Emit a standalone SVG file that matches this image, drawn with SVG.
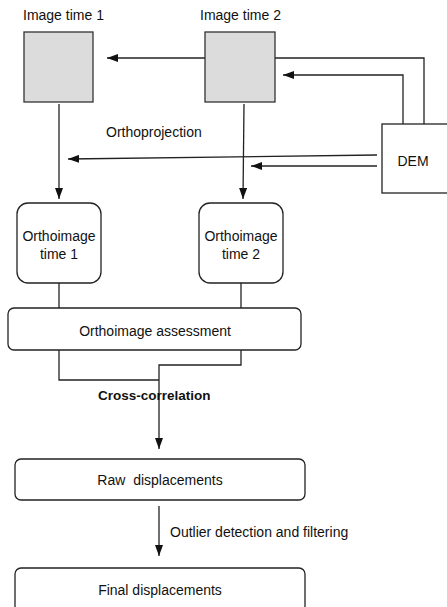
<svg xmlns="http://www.w3.org/2000/svg" width="447" height="607" viewBox="0 0 447 607">
  <style>
    .box { fill: #ffffff; stroke: #222222; stroke-width: 1.3; }
    .img { fill: #dcdcdc; stroke: #333333; stroke-width: 1.3; }
    .lbl { font-family: "Liberation Sans", Arial, sans-serif; font-size: 14px; fill: #111111; }
    .mid { text-anchor: middle; }
    .bold { font-weight: bold; font-size: 13.5px; }
    .wire { fill: none; stroke: #222222; stroke-width: 1.3; }
    .arrow { fill: none; stroke: #222222; stroke-width: 1.3; marker-end: url(#head); }
  </style>
  <defs>
    <marker id="head" markerUnits="userSpaceOnUse" markerWidth="11" markerHeight="8" refX="11" refY="4" orient="auto">
      <path d="M0,0 L11,4 L0,8 z" fill="#111111"/>
    </marker>
  </defs>
  <rect width="447" height="607" fill="#ffffff"/>

  <!-- connectors -->
  <g id="connectors">
    <!-- image 2 to image 1 -->
    <line class="arrow" x1="205" y1="58" x2="107" y2="58"/>
    <!-- DEM to image 2 -->
    <polyline class="wire" points="275,58 424,58 424,124"/>
    <polyline class="arrow" points="403,124 403,75 283,75"/>
    <!-- orthoprojection from DEM -->
    <line class="arrow" x1="377" y1="155" x2="68" y2="159"/>
    <line class="arrow" x1="377" y1="166" x2="251" y2="166"/>
    <!-- images down to orthoimages -->
    <line class="arrow" x1="59" y1="104" x2="59" y2="199"/>
    <line class="arrow" x1="244" y1="104" x2="243" y2="199"/>
    <!-- orthoimages to assessment -->
    <line class="wire" x1="59" y1="283" x2="59" y2="308"/>
    <line class="wire" x1="241" y1="283" x2="241" y2="308"/>
    <!-- assessment to cross-correlation -->
    <polyline class="wire" points="59,350 59,380 159,380"/>
    <polyline class="arrow" points="241,350 241,365 159,365 159,449"/>
    <!-- raw to final -->
    <line class="arrow" x1="159" y1="506" x2="159" y2="556"/>
  </g>

  <g id="image1">
    <rect class="img" x="24" y="32" width="69" height="70"/>
    <text class="lbl" x="23" y="20">Image time 1</text>
  </g>
  <g id="image2">
    <rect class="img" x="205" y="32" width="70" height="70"/>
    <text class="lbl" x="200" y="20">Image time 2</text>
  </g>
  <g id="dem">
    <rect class="box" x="382" y="124" width="80" height="69"/>
    <text class="lbl mid" x="413" y="166">DEM</text>
  </g>
  <g id="orthoprojection-label">
    <text class="lbl" x="106" y="137">Orthoprojection</text>
  </g>
  <g id="ortho1">
    <rect class="box" x="17" y="203" width="84" height="80" rx="11"/>
    <text class="lbl mid" x="59" y="241">Orthoimage</text>
    <text class="lbl mid" x="59" y="259">time 1</text>
  </g>
  <g id="ortho2">
    <rect class="box" x="199" y="203" width="84" height="80" rx="11"/>
    <text class="lbl mid" x="241" y="241">Orthoimage</text>
    <text class="lbl mid" x="241" y="259">time 2</text>
  </g>
  <g id="assessment">
    <rect class="box" x="8" y="308" width="293" height="42" rx="6"/>
    <text class="lbl mid" x="155" y="336">Orthoimage assessment</text>
  </g>
  <g id="cross-correlation-label">
    <text class="lbl bold" x="98" y="400">Cross-correlation</text>
  </g>
  <g id="raw">
    <rect class="box" x="15" y="459" width="290" height="41" rx="6"/>
    <text class="lbl mid" x="160" y="485" xml:space="preserve">Raw  displacements</text>
  </g>
  <g id="outlier-label">
    <text class="lbl" x="170" y="537">Outlier detection and filtering</text>
  </g>
  <g id="final">
    <rect class="box" x="15" y="568" width="290" height="50" rx="6"/>
    <text class="lbl mid" x="160" y="595">Final displacements</text>
  </g>
</svg>
